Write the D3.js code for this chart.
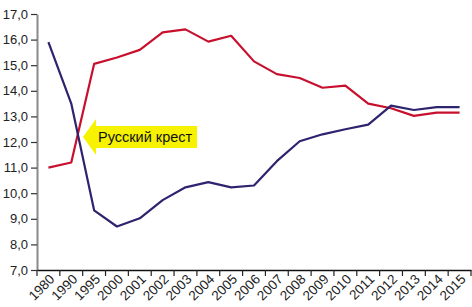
<!DOCTYPE html>
<html><head><meta charset="utf-8">
<script src="https://cdn.jsdelivr.net/npm/d3@7"></script>
<style>
body{margin:0;background:#fff;}
svg{display:block;font-family:"Liberation Sans",Arial,sans-serif;}
</style></head>
<body><svg id="c" width="472" height="307"></svg>
<script>
const categories = ["1980","1990","1995","2000","2001","2002","2003","2004","2005","2006","2007","2008","2009","2010","2011","2012","2013","2014","2015"];
const mortality = [11.0,11.2,15.05,15.3,15.6,16.28,16.4,15.92,16.15,15.15,14.65,14.5,14.12,14.2,13.5,13.32,13.02,13.15,13.15];
const birthRate = [15.9,13.5,9.33,8.7,9.02,9.73,10.23,10.43,10.23,10.3,11.25,12.03,12.3,12.5,12.68,13.42,13.25,13.36,13.36];
const yTicks = [7,8,9,10,11,12,13,14,15,16,17];
const annotation = "Русский крест";

const svg = d3.select("#c");
const x = d3.scaleBand().domain(categories).range([37,471]).padding(0);
const y = d3.scaleLinear().domain([7,17]).range([270,14]);
const fmt = v => d3.format(".1f")(v).replace(".", ",");

// y axis
const ya = svg.append("g").attr("transform","translate(37,0)")
  .call(d3.axisLeft(y).tickValues(yTicks).tickFormat(fmt).tickSize(6).tickSizeOuter(0));
ya.select(".domain").attr("stroke","#8a8a8a").attr("stroke-width",2);
ya.selectAll(".tick line").attr("stroke","#333").attr("stroke-width",1.2);
ya.selectAll(".tick text").attr("font-size",13).attr("fill","#222")
  .attr("font-family","Liberation Sans, Arial, sans-serif").attr("x",-9);

// x axis
const xa = svg.append("g").attr("transform","translate(0,270)")
  .call(d3.axisBottom(x).tickSize(0).tickSizeOuter(0));
xa.select(".domain").attr("stroke","#111").attr("stroke-width",1.5);
xa.selectAll(".tick line").remove();
// boundary ticks
const bounds = categories.map(c => x(c)).concat([x.range()[1]]);
xa.selectAll("line.b").data(bounds).join("line").attr("class","b")
  .attr("x1",d=>d).attr("x2",d=>d).attr("y1",0).attr("y2",6)
  .attr("stroke","#222").attr("stroke-width",1.2);
xa.selectAll(".tick text").attr("font-size",13.5).attr("fill","#222")
  .attr("font-family","Liberation Sans, Arial, sans-serif")
  .attr("text-anchor","end").attr("dy",0).attr("y",0)
  .attr("transform","translate(7,10) rotate(-45)");

// lines
const line = arr => d3.line().x((d,i)=>x(categories[i])+x.bandwidth()/2).y(d=>y(d))(arr);
svg.append("path").attr("d",line(mortality)).attr("fill","none")
  .attr("stroke","#c8102e").attr("stroke-width",2.2).attr("stroke-linejoin","round");
svg.append("path").attr("d",line(birthRate)).attr("fill","none")
  .attr("stroke","#2d236e").attr("stroke-width",2.2).attr("stroke-linejoin","round");

// annotation arrow
const g = svg.append("g");
g.append("path").attr("d","M83,137 L96,119 L96,126 L197,126 L197,148 L96,148 L96,155 Z")
  .attr("fill","#f6f200");
g.append("text").attr("x",98).attr("y",142).attr("font-size",14.5)
  .attr("fill","#111").attr("font-family","Liberation Sans, Arial, sans-serif")
  .text(annotation);
</script></body></html>
